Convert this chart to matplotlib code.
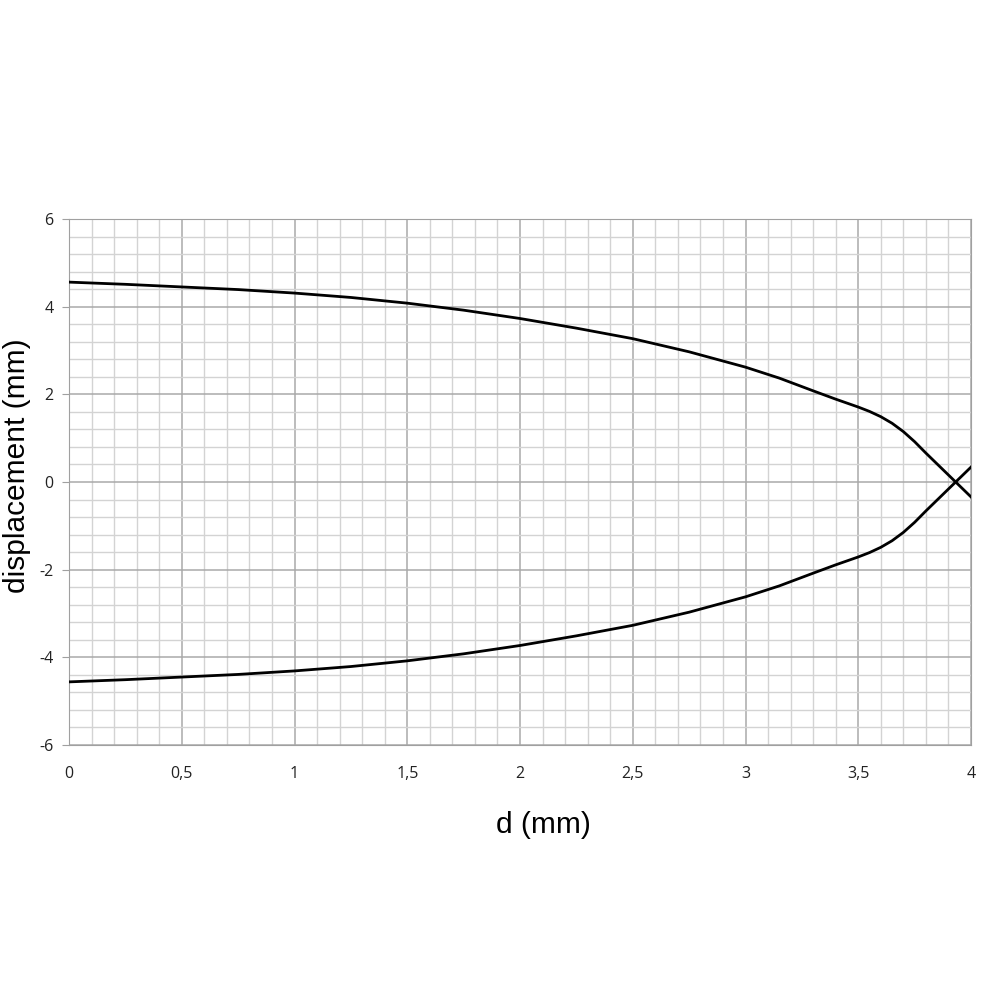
import numpy as np
import matplotlib
matplotlib.use('Agg')
import matplotlib.pyplot as plt
from matplotlib.ticker import MultipleLocator

plt.rcParams['axes.unicode_minus'] = False

# values
d = [0, 0.25, 0.5, 0.75, 1, 1.25, 1.5, 1.75, 2, 2.25, 2.5, 2.75,
     3, 3.15, 3.3, 3.4, 3.5, 3.55, 3.6, 3.65, 3.7, 3.75, 3.8, 3.85, 3.9, 3.95, 4.0]
upper = [4.56, 4.51, 4.45, 4.39, 4.31, 4.21, 4.08, 3.92, 3.73, 3.51, 3.27, 2.97,
         2.62, 2.37, 2.08, 1.89, 1.71, 1.61, 1.49, 1.34, 1.15, 0.92, 0.66, 0.41, 0.16, -0.09, -0.34]
lower = [-4.56, -4.51, -4.45, -4.39, -4.31, -4.21, -4.08, -3.92, -3.73, -3.51, -3.27, -2.97,
         -2.62, -2.37, -2.08, -1.89, -1.71, -1.61, -1.49, -1.34, -1.15, -0.92, -0.66, -0.41, -0.16, 0.09, 0.34]
xticks = [0, 0.5, 1, 1.5, 2, 2.5, 3, 3.5, 4]
xticklabels = ['0', '0,5', '1', '1,5', '2', '2,5', '3', '3,5', '4']
yticks = [-6, -4, -2, 0, 2, 4, 6]

fig = plt.figure(figsize=(10, 10), dpi=100)
ax = fig.add_axes([0.069, 0.255, 0.902, 0.526])

ax.plot(d, upper, color='black', lw=2.0, zorder=3)
ax.plot(d, lower, color='black', lw=2.0, zorder=3)

ax.set_xlim(0, 4)
ax.set_ylim(-6, 6)
ax.set_xticks(xticks)
ax.set_xticklabels(xticklabels)
ax.set_yticks(yticks)
ax.xaxis.set_minor_locator(MultipleLocator(0.1))
ax.yaxis.set_minor_locator(MultipleLocator(0.4))

ax.grid(which='major', color='#a9a9a9', lw=1.1)
ax.grid(which='minor', color='#d3d3d3', lw=1.0)
ax.set_axisbelow(True)

for s in ax.spines.values():
    s.set_color('#a0a0a0')
ax.tick_params(which='major', axis='y', length=5, color='#a0a0a0',
               labelsize=11.5, labelcolor='#222222', pad=6)
ax.tick_params(which='major', axis='x', length=0,
               labelsize=11.5, labelcolor='#222222', pad=15)
ax.tick_params(which='minor', length=0)
for lab in ax.get_xticklabels() + ax.get_yticklabels():
    lab.set_family('Open Sans')

fig.text(0.543, 0.175, 'd (mm)', fontsize=21.5, family='Liberation Sans',
         ha='center', va='center')
fig.text(0.017, 0.534, 'displacement (mm)', fontsize=21.5, family='Liberation Sans',
         ha='center', va='center', rotation=90)

plt.savefig('out.png', dpi=100)
